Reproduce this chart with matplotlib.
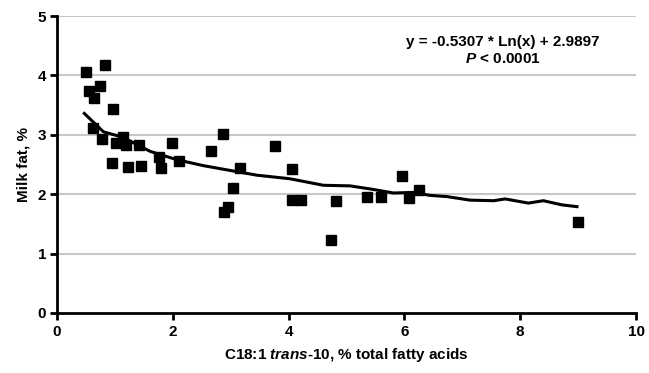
import numpy as np
import matplotlib.pyplot as plt

plt.rcParams['font.family'] = ['Liberation Sans', 'DejaVu Sans']
plt.rcParams['mathtext.fontset'] = 'custom'
plt.rcParams['mathtext.rm'] = 'Liberation Sans'
plt.rcParams['mathtext.it'] = 'Liberation Sans:italic'
plt.rcParams['mathtext.bf'] = 'Liberation Sans:bold'
plt.rcParams['mathtext.bfit'] = 'Liberation Sans:italic:bold'

# C18:1 trans-10 (% total FA) vs milk fat (%)
trans10 = [0.50, 0.83, 0.55, 0.74, 0.64, 0.96, 0.62, 0.77, 1.13, 1.02,
           1.19, 1.42, 0.94, 1.23, 1.45, 1.76, 1.80, 1.98, 2.10, 2.65,
           2.87, 3.16, 3.04, 2.96, 2.88, 3.77, 4.05, 4.05, 4.22, 4.73,
           4.81, 5.36, 5.60, 5.95, 6.07, 6.25, 8.99]
milk_fat = [4.05, 4.18, 3.74, 3.82, 3.62, 3.44, 3.12, 2.93, 2.97, 2.86,
            2.82, 2.82, 2.52, 2.46, 2.47, 2.63, 2.44, 2.86, 2.56, 2.72,
            3.01, 2.44, 2.11, 1.78, 1.70, 2.81, 2.42, 1.90, 1.90, 1.23,
            1.89, 1.96, 1.96, 2.31, 1.94, 2.07, 1.53]

# trend line
trend_x = [0.47, 0.80, 1.13, 1.61, 2.07, 2.53, 2.93, 3.45, 4.02, 4.60,
           5.06, 5.46, 5.81, 6.15, 6.44, 6.73, 7.13, 7.54, 7.74, 8.14,
           8.40, 8.72, 8.98]
trend_y = [3.36, 3.05, 2.96, 2.72, 2.58, 2.48, 2.41, 2.32, 2.26, 2.15,
           2.14, 2.08, 2.02, 2.03, 1.98, 1.96, 1.90, 1.89, 1.92, 1.85,
           1.89, 1.82, 1.79]

fig = plt.figure(figsize=(6.49, 3.73), dpi=100)
ax = fig.add_axes([0.088, 0.161, 0.892, 0.796])

for yv in [1, 2, 3, 4, 5]:
    ax.axhline(yv, color='#c8c8c8', lw=1.5, zorder=0)

ax.plot(trend_x, trend_y, color='black', lw=2.2, zorder=2)
ax.plot(trans10, milk_fat, 's', color='black', ms=6.5, zorder=3)

ax.set_xlim(0, 10)
ax.set_ylim(0, 5)
ax.set_xticks(range(0, 11, 2))
ax.set_yticks(range(0, 6))

for s in ['top', 'right']:
    ax.spines[s].set_visible(False)
for s in ['left', 'bottom']:
    ax.spines[s].set_linewidth(2)
ax.tick_params(axis='both', width=2, length=5, labelsize=11, direction='out')
for lab in ax.get_xticklabels() + ax.get_yticklabels():
    lab.set_fontweight('bold')
ax.tick_params(axis='x', pad=4)
ax.tick_params(axis='y', pad=3)

ax.set_ylabel('Milk fat, %', fontsize=11, fontweight='bold', labelpad=5)
ax.set_xlabel('C18:1 $\\bfit{trans}$-10, % total fatty acids', fontsize=11,
              fontweight='bold', labelpad=5)

ax.text(0.77, 0.90, 'y = -0.5307 * Ln(x) + 2.9897', transform=ax.transAxes,
        ha='center', fontsize=11, fontweight='bold')
ax.text(0.77, 0.842, '$\\bfit{P}$ < 0.0001', transform=ax.transAxes,
        ha='center', fontsize=11, fontweight='bold')

fig.savefig('out.png', dpi=100)
